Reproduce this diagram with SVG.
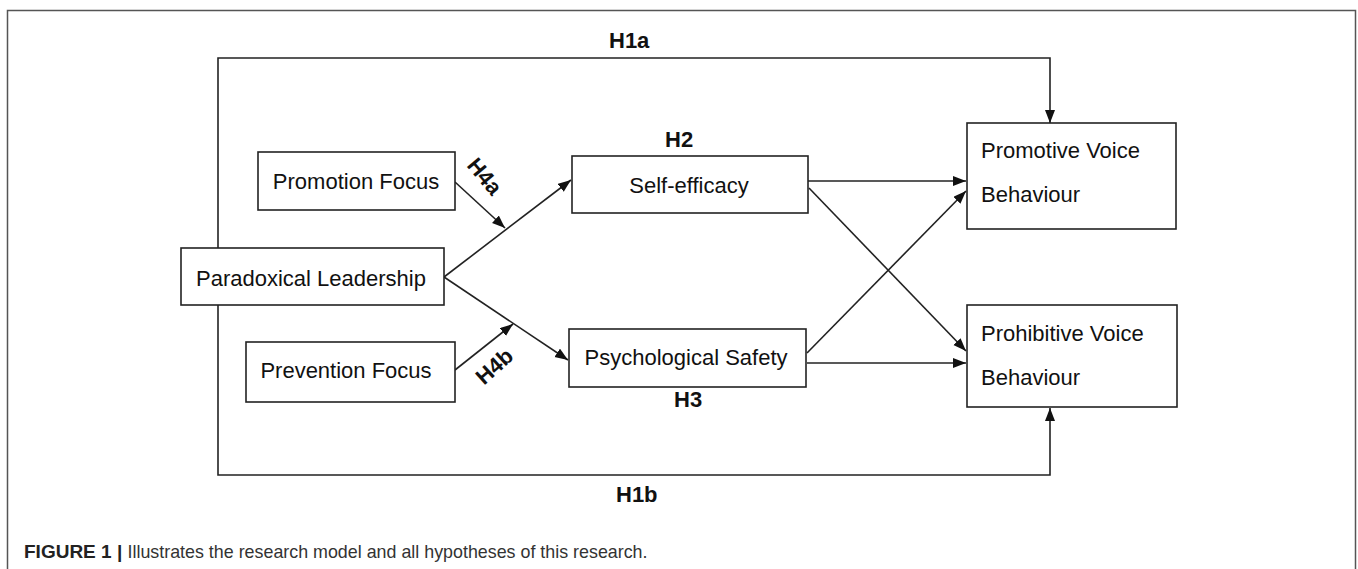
<svg xmlns="http://www.w3.org/2000/svg" width="1358" height="569" viewBox="0 0 1358 569">
<style>
.box{fill:#fff;stroke:#222;stroke-width:1.6}
.lbl{font-family:"Liberation Sans",Arial,sans-serif;font-size:22px;fill:#111}
.h{font-family:"Liberation Sans",Arial,sans-serif;font-size:22px;font-weight:bold;fill:#111}
.con{fill:none;stroke:#222;stroke-width:1.6}
.cap{font-family:"Liberation Sans",Arial,sans-serif;font-size:19px;fill:#333}
</style>
<defs>
<marker id="arr" markerUnits="userSpaceOnUse" markerWidth="14" markerHeight="12" refX="13" refY="5" orient="auto">
<path d="M0,0 L13,5 L0,10 Z" fill="#111"/>
</marker>
</defs>
<rect width="1358" height="569" fill="#fff"/>
<path d="M7.5,575 V10.5 H1355.5 V575" fill="none" stroke="#555" stroke-width="1.5"/>
<g id="connectors">
<path class="con" d="M218,248 V58 H1050 V123" marker-end="url(#arr)"/>
<path class="con" d="M218,305 V475 H1050 V408" marker-end="url(#arr)"/>
<line class="con" x1="444" y1="277" x2="571" y2="180" marker-end="url(#arr)"/>
<line class="con" x1="444" y1="277" x2="568" y2="360" marker-end="url(#arr)"/>
<line class="con" x1="455" y1="182" x2="505" y2="228" marker-end="url(#arr)"/>
<line class="con" x1="455" y1="370" x2="513" y2="324" marker-end="url(#arr)"/>
<line class="con" x1="808" y1="181" x2="966" y2="181" marker-end="url(#arr)"/>
<line class="con" x1="809" y1="188" x2="966" y2="351" marker-end="url(#arr)"/>
<line class="con" x1="807" y1="353" x2="966" y2="191" marker-end="url(#arr)"/>
<line class="con" x1="807" y1="363" x2="966" y2="363" marker-end="url(#arr)"/>
<text class="h" x="609" y="48">H1a</text>
<text class="h" x="665" y="147">H2</text>
<text class="h" x="674" y="407">H3</text>
<text class="h" x="616" y="502">H1b</text>
<text class="h" text-anchor="middle" transform="translate(485,176) rotate(50)" y="8">H4a</text>
<text class="h" text-anchor="middle" transform="translate(494,366) rotate(-42)" y="8">H4b</text>
</g>
<g id="promotion-focus">
<rect class="box" x="258" y="152" width="197" height="58"/>
<text class="lbl" x="356" y="189" text-anchor="middle">Promotion Focus</text>
</g>
<g id="paradoxical-leadership">
<rect class="box" x="181" y="248" width="263" height="57"/>
<text class="lbl" x="311" y="286" text-anchor="middle">Paradoxical Leadership</text>
</g>
<g id="prevention-focus">
<rect class="box" x="246" y="342" width="209" height="60"/>
<text class="lbl" x="346" y="378" text-anchor="middle">Prevention Focus</text>
</g>
<g id="self-efficacy">
<rect class="box" x="572" y="156" width="236" height="57"/>
<text class="lbl" x="689" y="193" text-anchor="middle">Self-efficacy</text>
</g>
<g id="psychological-safety">
<rect class="box" x="569" y="329" width="237" height="58"/>
<text class="lbl" x="686" y="365" text-anchor="middle">Psychological Safety</text>
</g>
<g id="promotive-voice">
<rect class="box" x="967" y="123" width="209" height="106"/>
<text class="lbl" x="981" y="158">Promotive Voice</text>
<text class="lbl" x="981" y="202">Behaviour</text>
</g>
<g id="prohibitive-voice">
<rect class="box" x="967" y="305" width="210" height="102"/>
<text class="lbl" x="981" y="341">Prohibitive Voice</text>
<text class="lbl" x="981" y="385">Behaviour</text>
</g>
<text class="cap" x="24" y="558"><tspan font-weight="bold" fill="#222">FIGURE 1 |</tspan> <tspan textLength="520" lengthAdjust="spacingAndGlyphs">Illustrates the research model and all hypotheses of this research.</tspan></text>
</svg>
